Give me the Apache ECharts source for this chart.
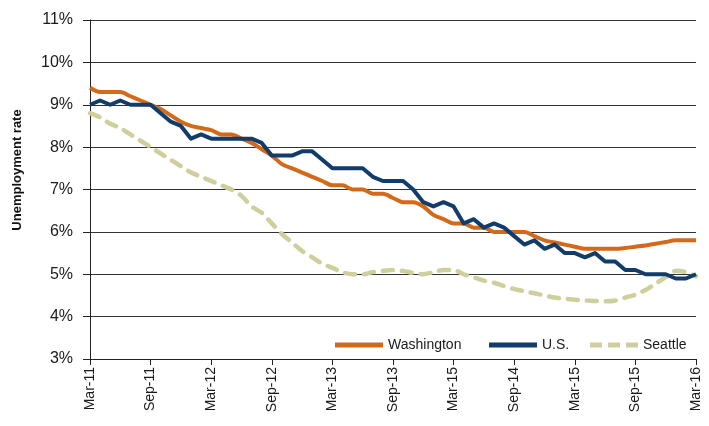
<!DOCTYPE html>
<html>
<head>
<meta charset="utf-8">
<script src="https://cdn.jsdelivr.net/npm/echarts@6/dist/echarts.min.js"></script>
<style>
html,body{margin:0;padding:0;background:#fff;}
#chart{width:709px;height:426px;}
</style>
</head>
<body>
<div id="chart"></div>
<script>
var categories = [
  "Mar-11","Apr-11","May-11","Jun-11","Jul-11","Aug-11","Sep-11","Oct-11","Nov-11","Dec-11",
  "Jan-12","Feb-12","Mar-12","Apr-12","May-12","Jun-12","Jul-12","Aug-12","Sep-12","Oct-12","Nov-12","Dec-12",
  "Jan-13","Feb-13","Mar-13","Apr-13","May-13","Jun-13","Jul-13","Aug-13","Sep-13","Oct-13","Nov-13","Dec-13",
  "Jan-14","Feb-14","Mar-14","Apr-14","May-14","Jun-14","Jul-14","Aug-14","Sep-14","Oct-14","Nov-14","Dec-14",
  "Jan-15","Feb-15","Mar-15","Apr-15","May-15","Jun-15","Jul-15","Aug-15","Sep-15","Oct-15","Nov-15","Dec-15",
  "Jan-16","Feb-16","Mar-16"
];
var tickLabels = ["Mar-11","Sep-11","Mar-12","Sep-12","Mar-13","Sep-13","Mar-15","Sep-14","Mar-15","Sep-15","Mar-16"];

var washington = [
  9.4,9.3,9.3,9.3,9.2,9.1,9.0,8.9,8.75,8.6,
  8.5,8.45,8.4,8.3,8.3,8.2,8.1,7.95,7.8,7.6,7.5,7.4,
  7.3,7.2,7.1,7.1,7.0,7.0,6.9,6.9,6.8,6.7,6.7,6.6,
  6.4,6.3,6.2,6.2,6.1,6.1,6.0,6.0,6.0,6.0,5.9,5.8,
  5.75,5.7,5.65,5.6,5.6,5.6,5.6,5.62,5.65,5.68,5.72,5.76,
  5.8,5.8,5.8
];
var us = [
  9.0,9.1,9.0,9.1,9.0,9.0,9.0,8.8,8.6,8.5,
  8.2,8.3,8.2,8.2,8.2,8.2,8.2,8.1,7.8,7.8,7.8,7.9,
  7.9,7.7,7.5,7.5,7.5,7.5,7.3,7.2,7.2,7.2,7.0,6.7,
  6.6,6.7,6.6,6.2,6.3,6.1,6.2,6.1,5.9,5.7,5.8,5.6,
  5.7,5.5,5.5,5.4,5.5,5.3,5.3,5.1,5.1,5.0,5.0,5.0,
  4.9,4.9,5.0
];
var seattle = [
  8.8,8.7,8.55,8.45,8.3,8.15,8.0,7.85,7.7,7.55,
  7.4,7.3,7.2,7.1,7.0,6.85,6.6,6.45,6.2,5.95,5.75,5.55,
  5.4,5.25,5.15,5.05,5.0,5.0,5.05,5.08,5.1,5.08,5.03,5.0,
  5.05,5.1,5.1,5.0,4.93,4.85,4.8,4.72,4.65,4.6,4.55,4.5,
  4.45,4.42,4.4,4.38,4.37,4.36,4.38,4.45,4.52,4.63,4.78,4.93,
  5.08,5.05,4.95
];

var FONT = "Liberation Sans, Arial, sans-serif";
var legendText = {fontFamily: FONT, fontSize: 14, color: '#1a1a1a'};
function mkLegend(name, left, icon) {
  return {
    left: left, top: 333, itemWidth: 48, itemHeight: 5, itemGap: 0,
    textStyle: legendText, icon: icon, data: [name]
  };
}
var chart = echarts.init(document.getElementById('chart'), null, {renderer:'canvas'});
chart.setOption({
  animation: false,
  backgroundColor: '#fff',
  textStyle: {fontFamily: FONT},
  grid: {left: 90, right: 13, top: 20, bottom: 67, containLabel: false},
  legend: [
    mkLegend('Washington', 330, 'rect'),
    mkLegend('U.S.', 484, 'rect'),
    mkLegend('Seattle', 585, 'path://M0,0h12v5h-12z M18,0h12v5h-12z M36,0h12v5h-12z')
  ],
  graphic: [{
    type: 'text', x: 17, y: 170, rotation: Math.PI / 2,
    style: {text: 'Unemployment rate', font: 'bold 13px ' + FONT, fill: '#111',
            align: 'center', verticalAlign: 'middle'}
  }],
  xAxis: {
    type: 'category',
    data: categories,
    boundaryGap: false,
    axisLine: {lineStyle: {color: '#222', width: 1}},
    axisTick: {show: true, length: 6, interval: 5, lineStyle: {color: '#222'}},
    axisLabel: {
      interval: 5, rotate: 90, margin: 8, fontSize: 14, color: '#1a1a1a', fontFamily: FONT,
      formatter: function (v, i) { return tickLabels[Math.round(i / 6)] || ''; }
    },
    splitLine: {show: false}
  },
  yAxis: {
    type: 'value',
    min: 3, max: 11, interval: 1,
    axisLine: {show: true, lineStyle: {color: '#222', width: 1}},
    axisTick: {show: true, length: 7, inside: false, lineStyle: {color: '#222'}},
    axisLabel: {formatter: '{value}%', fontSize: 16, color: '#1a1a1a', margin: 17, fontFamily: FONT},
    splitLine: {show: true, lineStyle: {color: '#333', width: 1}}
  },
  series: [
    {
      name: 'Washington', type: 'line', data: washington,
      symbol: 'none', smooth: 0.3,
      lineStyle: {color: '#D4691A', width: 4},
      itemStyle: {color: '#D4691A'}, z: 3
    },
    {
      name: 'U.S.', type: 'line', data: us,
      symbol: 'none', smooth: false,
      lineStyle: {color: '#123D6B', width: 4, join: 'round'},
      itemStyle: {color: '#123D6B'}, z: 4
    },
    {
      name: 'Seattle', type: 'line', data: seattle,
      symbol: 'none', smooth: 0.3,
      lineStyle: {color: '#CFCF9E', width: 4.5, type: [10, 9], cap: 'round'},
      itemStyle: {color: '#CFCF9E'}, z: 2
    }
  ]
});
</script>
</body>
</html>
